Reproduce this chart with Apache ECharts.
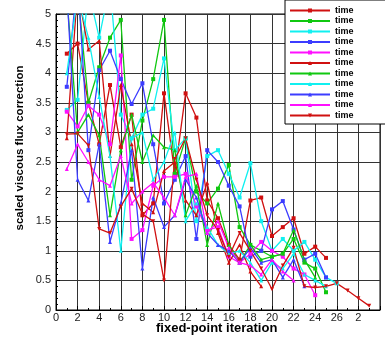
<!DOCTYPE html>
<html><head><meta charset="utf-8">
<script src="https://cdn.jsdelivr.net/npm/echarts@6/dist/echarts.min.js"></script>
<style>html,body{margin:0;padding:0;background:#fff}#c{width:385px;height:339px}</style>
</head><body><div id="c"></div>
<script>
const xTicks = [0,2,4,6,8,10,12,14,16,18,20,22,24,26,28,30];
const seriesNames = ['time','time','time','time','time','time','time','time','time','time','time'];
const colors = ['#d01010','#10c810','#10f0f0','#3c3cff','#ff10ff','#d01010','#10c810','#10f0f0','#3c3cff','#ff10ff','#d01010'];
const symbols = ['rect','rect','rect','rect','rect','triangle','triangle','triangle','triangle','triangle','triangle'];
const s1 = [4.33,4.5,3.5,2.8,3.8,2.75,3.3,1.6,1.8,3.66,2.3,3.66,3.25,1.85,1.55,1.1,0.85,1.85,1.9,1.25,1.4,1.55,0.95,1.07,0.88];
const s2 = [5.6,5.4,3.5,4.1,4.6,4.9,2.2,3.2,3.9,4.9,2.3,2.9,2.0,1.8,2.05,2.45,1.4,1.1,1.0,0.9,0.95,1.2,0.8,0.7,0.3];
const s3 = [3.38,3.55,5.4,4.6,5.5,3.3,2.9,3.3,3.4,4.25,2.7,2.9,1.5,2.6,2.7,2.3,1.9,2.48,1.5,1.0,1.2,1.0,1.15,0.85,0.55,0.45];
const s4 = [3.77,5.6,2.7,4.05,4.38,3.9,3.48,3.83,2.8,1.8,2.2,2.6,1.2,2.7,2.5,2.1,1.75,0.9,1.0,1.7,1.84,1.36,0.85,0.95,0.55];
const s5 = [3.35,3.1,3.45,3.3,2.8,4.3,1.2,1.35,2.1,2.25,2.25,2.3,1.75,1.35,1.4,0.9,0.8,0.95,1.15,1.0,0.9,0.7,0.6,0.25];
const s6 = [2.9,5.4,4.4,4.55,2.6,3.8,2.8,1.8,1.65,2.35,2.5,1.85,1.6,2.15,1.3,0.8,1.1,0.65,0.4];
const s7 = [5.3,3.0,3.3,2.95,1.6,2.7,3.3,2.5,2.95,2.75,2.7,1.6,2.1,1.1,1.8,1.1,0.8,1.1,0.85,0.9,0.95,1.35,0.85,0.55];
const s8 = [4.0,5.3,4.6,3.6,2.6,1.0,2.9,3.0,2.2,2.5,3.0,1.5,1.8,1.4,1.1,0.95,1.0,0.8,0.5,0.8,0.7,0.95,0.6,0.5,0.4];
const s9 = [5.4,2.2,1.85,2.8,1.15,1.8,2.7,0.7,1.9,1.4,1.6,2.2,1.9,1.3,1.1,1.0,0.8,1.05,0.8,0.85,0.55,0.85,0.4];
const s10 = [2.38,2.8,2.5,2.2,2.1,2.6,1.8,2.0,2.15,1.9,1.6,2.25,2.3,1.3,1.5,1.05,0.8,0.75,0.6,0.85,0.65,0.5];
const s11 = [2.97,2.98,2.78,1.37,1.3,1.75,2.05,1.62,1.5,0.5,2.55,2.9,2.2,1.6,1.35,0.9,1.3,1.0,0.7,0.35,0.75,1.05,0.4,0.38,0.4,0.45,0.33,0.2,0.07];
const allData = [s1,s2,s3,s4,s5,s6,s7,s8,s9,s10,s11];

const chart = echarts.init(document.getElementById('c'), null, {renderer:'canvas'});
const font = 'Liberation Sans, Arial, sans-serif';
const series = allData.map((d,i)=>({
  name: seriesNames[i] + (i? '\u200b'.repeat(i):''),
  type:'line',
  data: d.map((v,j)=>[j+1,v]),
  symbol: symbols[i],
  symbolSize: 4,
  symbolRotate: i===10 ? 180 : 0,
  showSymbol:true,
  clip:true,
  animation:false,
  lineStyle:{color:colors[i], width:1.3},
  itemStyle:{color:colors[i]}
}));
chart.setOption({
  animation:false,
  backgroundColor:'#fff',
  grid:{left:56,right:5,top:14,bottom:29,show:true,borderColor:'#000',borderWidth:1},
  xAxis:{type:'value',min:0,max:30,interval:2,
    axisLine:{show:true,lineStyle:{color:'#000'}},
    axisTick:{inside:true,length:4,lineStyle:{color:'#000'}},
    minorTick:{show:true,splitNumber:2,length:2,lineStyle:{color:'#000'}},
    splitLine:{show:true,lineStyle:{color:'#333',width:1}},
    axisLabel:{fontFamily:font,fontSize:11,color:'#222',margin:2,
      formatter:v=> v===30?'':(v===28?'2':String(v))}},
  yAxis:{type:'value',min:0,max:5,interval:0.5,
    axisLine:{show:true,lineStyle:{color:'#000'}},
    axisTick:{inside:true,length:4,lineStyle:{color:'#000'}},
    minorTick:{show:true,splitNumber:5,length:2,lineStyle:{color:'#000'}},
    splitLine:{show:true,lineStyle:{color:'#333',width:1}},
    axisLabel:{fontFamily:font,fontSize:11,color:'#222',margin:5,
      formatter:v=>String(v)}},
  legend:{show:true,orient:'vertical',left:285,top:0,
    backgroundColor:'#fff',borderColor:'#000',borderWidth:1,
    padding:[6,40,4,4],itemWidth:40,itemHeight:5,itemGap:1.5,
    formatter:n=>'time',
    textStyle:{fontFamily:font,fontSize:9,fontWeight:'bold',color:'#000',lineHeight:9},
    data: series.map(s=>s.name)},
  graphic:[
    {type:'text',left:156,top:322,style:{text:'fixed-point iteration',font:'bold 13px '+font,fill:'#000'}},
    {type:'text',x:20,y:148,rotation:Math.PI/2,style:{text:'scaled viscous flux correction',font:'bold 11.5px '+font,fill:'#000',align:'center',verticalAlign:'middle'}}
  ],
  series: series
});
</script></body></html>
